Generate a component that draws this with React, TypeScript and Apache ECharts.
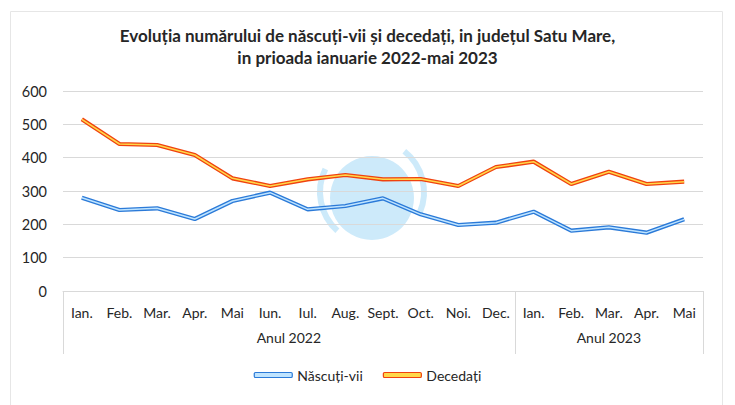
import React, { useEffect, useRef } from "react";
import * as echarts from "echarts";

const months = ["Ian.", "Feb.", "Mar.", "Apr.", "Mai", "Iun.", "Iul.", "Aug.", "Sept.", "Oct.", "Noi.", "Dec.", "Ian.", "Feb.", "Mar.", "Apr.", "Mai"];
const nascuti = [280, 243, 248, 216, 270, 295, 245, 255, 278, 230, 198, 205, 238, 181, 191, 175, 215];
const decedati = [515, 441, 438, 408, 338, 315, 335, 348, 335, 336, 315, 372, 388, 321, 358, 321, 328];
const yearGroups = ["Anul 2022", "Anul 2023"];
const yearCenters = [6, 14.5];
const yearBounds = [0, 12, 17];
const yTicks = [0, 100, 200, 300, 400, 500, 600];

const FONT = "Lato";

export default function App() {
  const ref = useRef<HTMLDivElement>(null);
  useEffect(() => {
    if (!ref.current) return;
    const chart = echarts.init(ref.current, null, { renderer: "svg" });
    const blueDark = "#2b7ad8";
    const blueLight = "#bfe4ff";
    const redDark = "#f0420f";
    const yellow = "#ffd84a";
    chart.setOption({
      animation: false,
      backgroundColor: "#ffffff",
      textStyle: { fontFamily: FONT },
      title: {
        text: "Evoluția numărului de născuți-vii și decedați, in județul Satu Mare,\nin prioada ianuarie 2022-mai 2023",
        left: "center",
        top: 19,
        textStyle: { fontFamily: FONT, fontSize: 17, fontWeight: "bold", color: "#262626", lineHeight: 22 },
      },
      graphic: [
        {
          type: "rect",
          shape: { x: 10.5, y: 11.5, width: 712, height: 420 },
          style: { fill: "none", stroke: "#e6e6e6", lineWidth: 1 },
          silent: true,
        },
        {
          type: "circle",
          shape: { cx: 372, cy: 198, r: 42 },
          style: { fill: "rgba(90,185,240,0.3)" },
          silent: true,
          z: 0,
        },
        {
          type: "arc",
          shape: { cx: 372, cy: 192, r: 52, startAngle: 2.3, endAngle: 3.6 },
          style: { stroke: "rgba(90,185,240,0.3)", lineWidth: 6, fill: "none" },
          silent: true,
        },
        {
          type: "arc",
          shape: { cx: 372, cy: 192, r: 52, startAngle: -0.9, endAngle: 0.4 },
          style: { stroke: "rgba(90,185,240,0.3)", lineWidth: 6, fill: "none" },
          silent: true,
        },
      ],
      legend: {
        bottom: 18,
        left: "center",
        itemWidth: 38,
        itemHeight: 5,
        itemGap: 20,
        textStyle: { fontFamily: FONT, fontSize: 14, color: "#262626" },
        data: [
          { name: "Născuți-vii", icon: "roundRect", itemStyle: { color: blueLight, borderColor: blueDark, borderWidth: 1.2 } },
          { name: "Decedați", icon: "roundRect", itemStyle: { color: yellow, borderColor: redDark, borderWidth: 1.2 } },
        ],
      },
      grid: { left: 63, right: 32, top: 91, bottom: 114 },
      xAxis: [
        {
          type: "category",
          data: months,
          boundaryGap: true,
          axisLine: { lineStyle: { color: "#d9d9d9", width: 1 } },
          axisTick: { show: false },
          axisLabel: { interval: 0, margin: 14, fontSize: 14, color: "#262626", fontFamily: FONT },
        },
        {
          type: "value",
          position: "bottom",
          min: 0,
          max: 17,
          axisLine: { show: false },
          splitLine: { show: false },
          axisTick: { show: true, customValues: yearBounds, length: 63, lineStyle: { color: "#d9d9d9", width: 1 } },
          axisLabel: {
            customValues: yearCenters,
            margin: 39,
            fontSize: 14,
            color: "#262626",
            fontFamily: FONT,
            formatter: (v: number) => yearGroups[yearCenters.indexOf(v)] ?? "",
          },
        },
      ],
      yAxis: {
        type: "value",
        min: yTicks[0],
        max: yTicks[yTicks.length - 1],
        interval: 100,
        axisLine: { show: false },
        axisTick: { show: false },
        splitLine: { lineStyle: { color: "#d9d9d9", width: 1 } },
        axisLabel: { margin: 16, fontSize: 14.5, color: "#262626", fontFamily: FONT },
      },
      series: [
        { name: "Născuți-vii", type: "line", data: nascuti, showSymbol: false, lineStyle: { color: blueDark, width: 4.2 }, itemStyle: { color: blueDark }, z: 2 },
        { name: "Născuți-vii", type: "line", data: nascuti, showSymbol: false, lineStyle: { color: blueLight, width: 1.5 }, itemStyle: { color: blueLight }, z: 3 },
        { name: "Decedați", type: "line", data: decedati, showSymbol: false, lineStyle: { color: redDark, width: 4.2 }, itemStyle: { color: redDark }, z: 4 },
        { name: "Decedați", type: "line", data: decedati, showSymbol: false, lineStyle: { color: yellow, width: 1.5 }, itemStyle: { color: yellow }, z: 5 },
      ],
    });
    return () => chart.dispose();
  }, []);
  return <div ref={ref} style={{ position: "absolute", left: 0, top: 0, width: 735, height: 405 }} />;
}
